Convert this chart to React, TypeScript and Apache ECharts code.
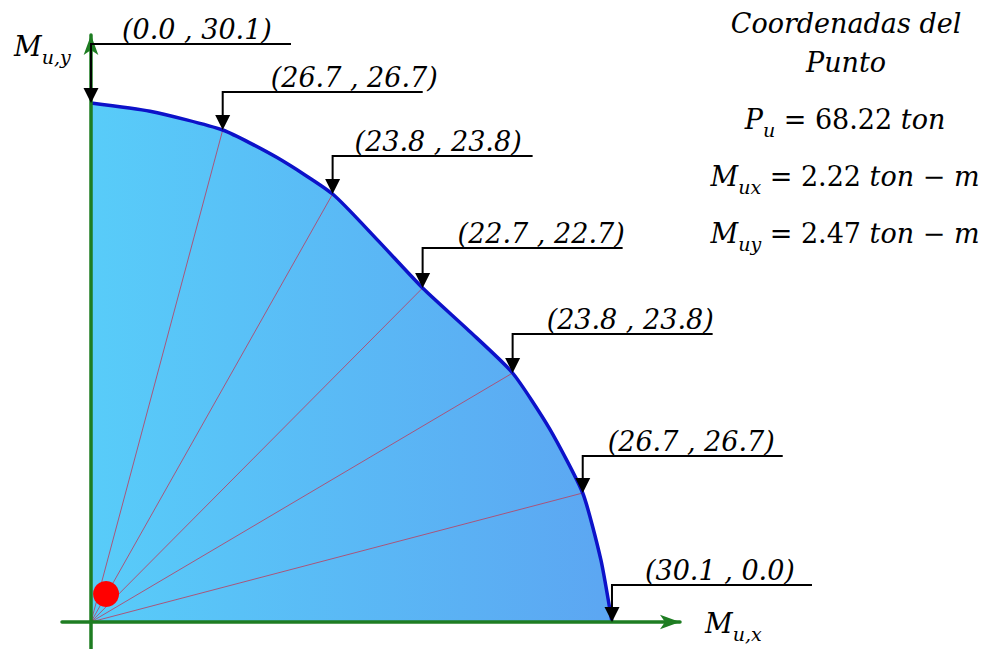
import React, { useEffect, useRef } from "react";
import * as echarts from "echarts";

// ---- data (moments, ton-m) ----
const calloutMx = [0.0, 7.61, 13.96, 19.16, 24.36, 28.41, 30.1];
const calloutMy = [30.1, 28.53, 24.82, 19.37, 14.44, 7.48, 0.0];
const calloutLabels = [
  "(0.0 , 30.1)",
  "(26.7 , 26.7)",
  "(23.8 , 23.8)",
  "(22.7 , 22.7)",
  "(23.8 , 23.8)",
  "(26.7 , 26.7)",
  "(30.1 , 0.0)",
];
const curveMx = [0.0, 3.41, 7.61, 10.75, 13.96, 16.6, 19.16, 21.85, 24.36, 26.5, 28.41, 29.46, 30.1];
const curveMy = [30.1, 29.62, 28.53, 26.93, 24.82, 22.1, 19.37, 16.88, 14.44, 11.2, 7.48, 3.6, 0.0];
const rayIndices = [1, 2, 3, 4, 5];
const loadMx = [0.87];
const loadMy = [1.62];
const Pu = "68.22";
const MuxVal = "2.22";
const MuyVal = "2.47";

// ---- layout (pixels) ----
const calloutRise = [59, 38, 38, 40, 39, 37, 37];
const calloutTextDx = [31, 48, 22, 35, 34, 25, 33];
const calloutLen = 200;

const FONT = "'DejaVu Serif', serif";
const FS = 27;

const richStyles = {
  i: { fontFamily: FONT, fontStyle: "italic", fontSize: FS, lineHeight: 38, color: "#000" },
  n: { fontFamily: FONT, fontStyle: "normal", fontSize: FS, lineHeight: 38, color: "#000" },
  s: {
    fontFamily: FONT,
    fontStyle: "italic",
    fontSize: 19,
    lineHeight: 18,
    padding: [22, 0, 0, 0],
    color: "#000",
  },
};

export default function App() {
  const ref = useRef<HTMLDivElement>(null);

  useEffect(() => {
    if (!ref.current) return;
    const chart = echarts.init(ref.current, undefined, { renderer: "svg" });

    const curveData = curveMx.map((x, i) => [x, curveMy[i]]);
    const calloutData = calloutMx.map((x, i) => [x, calloutMy[i], i]);
    const rayData = rayIndices.map((i) => ({ coords: [[0, 0], [calloutMx[i], calloutMy[i]]] }));
    const loadData = loadMx.map((x, i) => [x, loadMy[i]]);

    const axisLine = {
      show: true,
      onZero: true,
      symbol: ["none", "arrow"],
      symbolSize: [11, 20],
      lineStyle: { color: "#1E7D22", width: 3.5 },
    };

    chart.setOption({
      animation: false,
      grid: { left: 62, right: 325, top: 35, bottom: 0, outerBoundsMode: "none" },
      xAxis: {
        type: "value",
        z: 6,
        min: -1.675,
        max: 34.03,
        axisLine,
        axisTick: { show: false },
        axisLabel: { show: false },
        splitLine: { show: false },
      },
      yAxis: {
        type: "value",
        z: 6,
        min: -1.566,
        max: 34.04,
        axisLine,
        axisTick: { show: false },
        axisLabel: { show: false },
        splitLine: { show: false },
      },
      series: [
        {
          type: "line",
          z: 1,
          data: curveData,
          smooth: 0.2,
          symbol: "none",
          lineStyle: { width: 0 },
          areaStyle: {
            opacity: 1,
            color: new echarts.graphic.LinearGradient(0, 0, 1, 0, [
              { offset: 0, color: "#58CCF9" },
              { offset: 1, color: "#5CA6F2" },
            ]),
          },
        },
        {
          type: "lines",
          coordinateSystem: "cartesian2d",
          z: 2,
          data: rayData,
          lineStyle: { color: "#B04A6E", width: 1, opacity: 0.9 },
        },
        {
          type: "line",
          z: 3,
          data: curveData,
          smooth: 0.2,
          symbol: "none",
          lineStyle: { color: "#0D12C9", width: 3.5 },
        },
        {
          type: "custom",
          z: 8,
          data: calloutData,
          renderItem: (params: any, api: any) => {
            const i = params.dataIndex;
            const p = api.coord([api.value(0), api.value(1)]);
            const ly = p[1] - calloutRise[i];
            return {
              type: "group",
              children: [
                {
                  type: "polyline",
                  shape: { points: [[p[0] + calloutLen, ly], [p[0], ly], [p[0], p[1] - 12]] },
                  style: { stroke: "#000", lineWidth: 2, fill: null },
                },
                {
                  type: "polygon",
                  shape: { points: [[p[0] - 7.5, p[1] - 15], [p[0] + 7.5, p[1] - 15], [p[0], p[1]]] },
                  style: { fill: "#000" },
                },
                {
                  type: "text",
                  x: p[0] + calloutTextDx[i],
                  y: ly - 1,
                  style: {
                    text: calloutLabels[i],
                    fontFamily: FONT,
                    fontStyle: "italic",
                    fontSize: FS,
                    fill: "#000",
                    align: "left",
                    verticalAlign: "bottom",
                  },
                },
              ],
            };
          },
        },
        {
          type: "scatter",
          z: 9,
          data: loadData,
          symbol: "circle",
          symbolSize: 26,
          itemStyle: { color: "#FF0000", opacity: 1 },
        },
      ],
      graphic: [
        {
          type: "text",
          x: 14,
          y: 46,
          style: { text: "{i|M}{s|u,y}", rich: richStyles, align: "left", verticalAlign: "middle" },
        },
        {
          type: "text",
          x: 705,
          y: 623,
          style: { text: "{i|M}{s|u,x}", rich: richStyles, align: "left", verticalAlign: "middle" },
        },
        {
          type: "text",
          x: 846,
          y: 23,
          style: { text: "Coordenadas del", fontFamily: FONT, fontStyle: "italic", fontSize: FS, fill: "#000", align: "center", verticalAlign: "middle" },
        },
        {
          type: "text",
          x: 846,
          y: 62,
          style: { text: "Punto", fontFamily: FONT, fontStyle: "italic", fontSize: FS, fill: "#000", align: "center", verticalAlign: "middle" },
        },
        {
          type: "text",
          x: 845,
          y: 119,
          style: { text: `{i|P}{s|u}{n| = ${Pu} }{i|ton}`, rich: richStyles, align: "center", verticalAlign: "middle" },
        },
        {
          type: "text",
          x: 845,
          y: 176,
          style: { text: `{i|M}{s|ux}{n| = ${MuxVal} }{i|ton}{n| − }{i|m}`, rich: richStyles, align: "center", verticalAlign: "middle" },
        },
        {
          type: "text",
          x: 845,
          y: 233,
          style: { text: `{i|M}{s|uy}{n| = ${MuyVal} }{i|ton}{n| − }{i|m}`, rich: richStyles, align: "center", verticalAlign: "middle" },
        },
      ],
    });

    return () => chart.dispose();
  }, []);

  return (
    <div
      ref={ref}
      style={{ position: "absolute", left: 0, top: 0, width: 1005, height: 649, background: "#fff" }}
    />
  );
}
